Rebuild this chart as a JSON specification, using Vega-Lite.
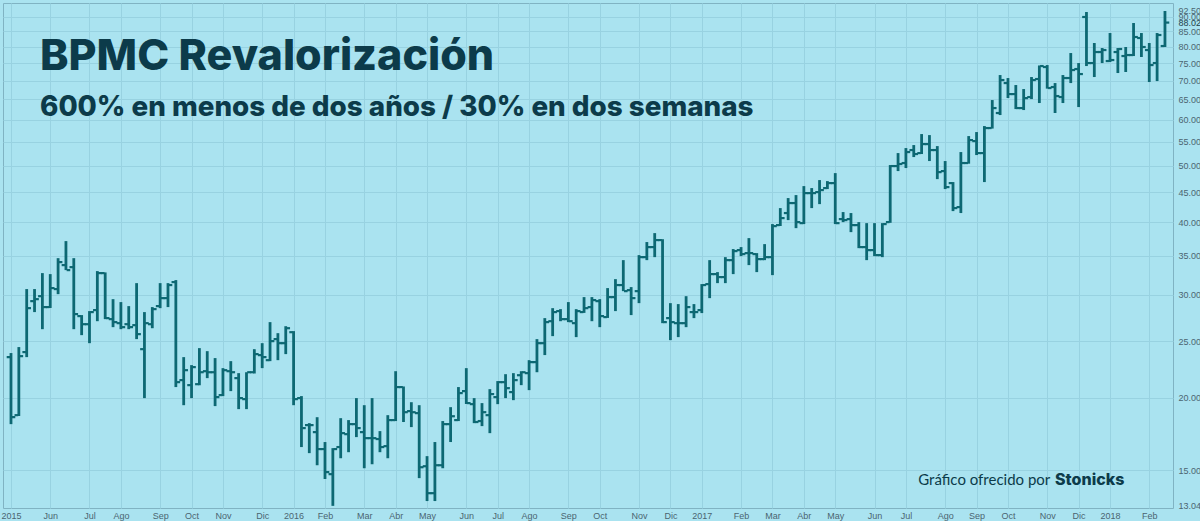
{
  "$schema": "https://vega.github.io/schema/vega-lite/v6.json",
  "width": 1170,
  "height": 505,
  "autosize": {"type": "none"},
  "padding": {"left": 3, "top": 3, "right": 27, "bottom": 13},
  "background": "#aae3f0",
  "config": {"view": {"stroke": "#80b3c3", "strokeWidth": 1}},
  "title": {
    "text": "BPMC Revalorización",
    "subtitle": "600% en menos de dos años / 30% en dos semanas",
    "anchor": "start",
    "frame": "group",
    "orient": "top",
    "offset": -119,
    "dx": 37,
    "font": "Inter",
    "fontSize": 43,
    "fontWeight": 800,
    "color": "#0c3b4a",
    "subtitleFont": "Inter",
    "subtitleFontSize": 27.8,
    "subtitleFontWeight": 800,
    "subtitleColor": "#0c3b4a",
    "subtitlePadding": 15
  },
  "data": {"values": [
    {"date":"2015-04-27","open":23.47,"high":23.85,"low":18.01,"close":18.51},
    {"date":"2015-05-04","open":18.66,"high":24.42,"low":18.6,"close":23.56},
    {"date":"2015-05-11","open":23.94,"high":30.71,"low":23.47,"close":28.48},
    {"date":"2015-05-18","open":29.28,"high":30.71,"low":28.04,"close":29.51},
    {"date":"2015-05-25","open":29.86,"high":32.71,"low":26.21,"close":28.6},
    {"date":"2015-06-01","open":28.6,"high":32.58,"low":28.5,"close":30.83},
    {"date":"2015-06-08","open":30.71,"high":34.7,"low":30.1,"close":34.16},
    {"date":"2015-06-15","open":33.76,"high":37.12,"low":33.1,"close":33.1},
    {"date":"2015-06-22","open":33.49,"high":34.7,"low":26.21,"close":27.82},
    {"date":"2015-06-29","open":27.6,"high":27.71,"low":25.6,"close":26.73},
    {"date":"2015-07-06","open":26.73,"high":28.15,"low":24.8,"close":28.04},
    {"date":"2015-07-13","open":28.26,"high":32.97,"low":27.05,"close":32.71},
    {"date":"2015-07-20","open":32.71,"high":32.8,"low":27.27,"close":27.38},
    {"date":"2015-07-27","open":27.27,"high":29.51,"low":26.42,"close":26.95},
    {"date":"2015-08-03","open":26.84,"high":29.17,"low":26.21,"close":26.42},
    {"date":"2015-08-10","open":26.73,"high":28.71,"low":26.21,"close":26.42},
    {"date":"2015-08-17","open":26.63,"high":31.44,"low":25.2,"close":25.7},
    {"date":"2015-08-24","open":24.22,"high":28.04,"low":19.96,"close":26.84},
    {"date":"2015-08-31","open":26.73,"high":28.6,"low":26.31,"close":28.37},
    {"date":"2015-09-07","open":28.71,"high":31.44,"low":28.48,"close":29.63},
    {"date":"2015-09-14","open":29.63,"high":31.44,"low":28.6,"close":31.2},
    {"date":"2015-09-21","open":31.57,"high":31.82,"low":20.85,"close":21.26},
    {"date":"2015-09-28","open":21.43,"high":23.47,"low":19.41,"close":22.29},
    {"date":"2015-10-05","open":21.01,"high":22.74,"low":19.96,"close":22.56},
    {"date":"2015-10-12","open":21.09,"high":24.32,"low":21.0,"close":22.11},
    {"date":"2015-10-19","open":22.2,"high":24.03,"low":21.6,"close":22.11},
    {"date":"2015-10-26","open":22.11,"high":23.38,"low":19.34,"close":20.04},
    {"date":"2015-11-02","open":20.2,"high":22.47,"low":20.12,"close":22.29},
    {"date":"2015-11-09","open":22.2,"high":23.1,"low":20.52,"close":22.11},
    {"date":"2015-11-16","open":21.6,"high":22.03,"low":19.11,"close":19.96},
    {"date":"2015-11-23","open":19.88,"high":22.11,"low":19.11,"close":22.11},
    {"date":"2015-11-30","open":22.11,"high":24.22,"low":22.0,"close":23.75},
    {"date":"2015-12-07","open":23.66,"high":24.8,"low":22.47,"close":23.47},
    {"date":"2015-12-14","open":23.19,"high":26.95,"low":23.1,"close":25.0},
    {"date":"2015-12-21","open":25.2,"high":25.8,"low":23.19,"close":24.8},
    {"date":"2015-12-28","open":24.8,"high":26.52,"low":23.75,"close":26.31},
    {"date":"2016-01-04","open":25.9,"high":26.01,"low":19.41,"close":19.88},
    {"date":"2016-01-11","open":19.96,"high":20.12,"low":16.45,"close":17.73},
    {"date":"2016-01-18","open":17.94,"high":18.08,"low":16.06,"close":17.94},
    {"date":"2016-01-25","open":17.45,"high":18.51,"low":15.31,"close":16.32},
    {"date":"2016-02-01","open":16.32,"high":16.78,"low":14.5,"close":14.9},
    {"date":"2016-02-08","open":14.78,"high":16.38,"low":13.04,"close":16.32},
    {"date":"2016-02-15","open":16.45,"high":18.44,"low":15.74,"close":17.38},
    {"date":"2016-02-22","open":17.31,"high":18.3,"low":16.12,"close":18.01},
    {"date":"2016-02-29","open":18.01,"high":19.96,"low":17.11,"close":17.73},
    {"date":"2016-03-07","open":17.45,"high":19.41,"low":15.13,"close":17.04},
    {"date":"2016-03-14","open":17.04,"high":19.96,"low":15.37,"close":17.04},
    {"date":"2016-03-21","open":16.98,"high":17.52,"low":16.12,"close":16.45},
    {"date":"2016-03-28","open":16.51,"high":18.66,"low":15.74,"close":18.3},
    {"date":"2016-04-04","open":18.3,"high":22.2,"low":18.23,"close":20.85},
    {"date":"2016-04-11","open":20.85,"high":20.9,"low":18.16,"close":18.88},
    {"date":"2016-04-18","open":18.96,"high":19.64,"low":17.8,"close":18.88},
    {"date":"2016-04-25","open":18.81,"high":19.41,"low":14.55,"close":15.19},
    {"date":"2016-05-02","open":15.25,"high":15.87,"low":13.29,"close":13.71},
    {"date":"2016-05-09","open":13.71,"high":16.78,"low":13.29,"close":15.31},
    {"date":"2016-05-16","open":15.31,"high":18.23,"low":15.13,"close":18.01},
    {"date":"2016-05-23","open":18.01,"high":19.26,"low":16.78,"close":18.58},
    {"date":"2016-05-30","open":18.3,"high":20.85,"low":18.23,"close":20.36},
    {"date":"2016-06-06","open":20.52,"high":22.47,"low":19.5,"close":19.57},
    {"date":"2016-06-13","open":19.49,"high":19.96,"low":18.08,"close":18.16},
    {"date":"2016-06-20","open":18.23,"high":19.57,"low":17.87,"close":18.88},
    {"date":"2016-06-27","open":18.66,"high":20.68,"low":17.38,"close":20.28},
    {"date":"2016-07-04","open":20.04,"high":21.35,"low":19.49,"close":21.26},
    {"date":"2016-07-11","open":21.26,"high":21.94,"low":19.96,"close":20.76},
    {"date":"2016-07-18","open":20.44,"high":22.03,"low":19.8,"close":21.43},
    {"date":"2016-07-25","open":21.85,"high":22.2,"low":21.01,"close":22.11},
    {"date":"2016-08-01","open":22.03,"high":23.19,"low":20.6,"close":23.01},
    {"date":"2016-08-08","open":23.01,"high":25.2,"low":22.11,"close":24.8},
    {"date":"2016-08-15","open":24.8,"high":27.38,"low":23.66,"close":26.95},
    {"date":"2016-08-22","open":27.05,"high":28.48,"low":25.5,"close":28.04},
    {"date":"2016-08-29","open":28.15,"high":28.37,"low":27.05,"close":27.27},
    {"date":"2016-09-05","open":27.27,"high":29.17,"low":26.95,"close":27.05},
    {"date":"2016-09-12","open":26.84,"high":28.37,"low":25.4,"close":28.15},
    {"date":"2016-09-19","open":28.04,"high":29.75,"low":27.95,"close":28.48},
    {"date":"2016-09-26","open":28.6,"high":29.75,"low":27.05,"close":29.4},
    {"date":"2016-10-03","open":29.28,"high":29.51,"low":26.42,"close":27.6},
    {"date":"2016-10-10","open":27.49,"high":30.83,"low":27.4,"close":29.75},
    {"date":"2016-10-17","open":29.75,"high":31.94,"low":28.15,"close":31.2},
    {"date":"2016-10-24","open":31.2,"high":34.43,"low":30.46,"close":30.46},
    {"date":"2016-10-31","open":30.58,"high":30.95,"low":27.71,"close":29.63},
    {"date":"2016-11-07","open":30.46,"high":35.12,"low":29.05,"close":34.84},
    {"date":"2016-11-14","open":34.84,"high":36.98,"low":34.43,"close":36.25},
    {"date":"2016-11-21","open":36.25,"high":38.31,"low":34.84,"close":37.27},
    {"date":"2016-11-28","open":37.27,"high":37.4,"low":26.84,"close":26.95},
    {"date":"2016-12-05","open":27.38,"high":29.05,"low":25.1,"close":26.95},
    {"date":"2016-12-12","open":26.84,"high":28.94,"low":25.4,"close":26.84},
    {"date":"2016-12-19","open":26.84,"high":29.86,"low":26.42,"close":28.6},
    {"date":"2016-12-26","open":28.04,"high":28.94,"low":27.38,"close":28.04},
    {"date":"2017-01-02","open":28.26,"high":31.32,"low":27.93,"close":31.2},
    {"date":"2017-01-09","open":31.32,"high":34.43,"low":29.63,"close":32.58},
    {"date":"2017-01-16","open":32.58,"high":32.84,"low":31.44,"close":32.2},
    {"date":"2017-01-23","open":32.2,"high":34.84,"low":31.44,"close":34.43},
    {"date":"2017-01-30","open":34.43,"high":35.97,"low":32.58,"close":35.68},
    {"date":"2017-02-06","open":35.82,"high":36.25,"low":34.98,"close":35.26},
    {"date":"2017-02-13","open":35.4,"high":37.56,"low":33.76,"close":35.4},
    {"date":"2017-02-20","open":35.26,"high":35.4,"low":32.84,"close":34.57},
    {"date":"2017-02-27","open":34.57,"high":36.68,"low":34.43,"close":34.84},
    {"date":"2017-03-06","open":34.84,"high":39.7,"low":32.45,"close":39.38},
    {"date":"2017-03-13","open":39.54,"high":42.29,"low":39.4,"close":40.65},
    {"date":"2017-03-20","open":41.47,"high":44.0,"low":40.33,"close":43.14},
    {"date":"2017-03-27","open":43.14,"high":44.52,"low":39.07,"close":40.01},
    {"date":"2017-04-03","open":39.85,"high":46.13,"low":39.7,"close":44.87},
    {"date":"2017-04-10","open":44.87,"high":45.77,"low":42.29,"close":44.87},
    {"date":"2017-04-17","open":45.05,"high":47.24,"low":42.96,"close":45.41},
    {"date":"2017-04-24","open":45.77,"high":47.05,"low":45.59,"close":46.68},
    {"date":"2017-05-01","open":46.68,"high":48.56,"low":39.7,"close":39.85},
    {"date":"2017-05-08","open":40.49,"high":41.63,"low":40.01,"close":40.33},
    {"date":"2017-05-15","open":40.49,"high":41.47,"low":38.46,"close":39.54},
    {"date":"2017-05-22","open":39.54,"high":40.01,"low":36.1,"close":36.25},
    {"date":"2017-05-29","open":36.25,"high":39.85,"low":34.43,"close":35.82},
    {"date":"2017-06-05","open":35.82,"high":39.85,"low":34.98,"close":35.12},
    {"date":"2017-06-12","open":35.12,"high":39.85,"low":34.84,"close":39.7},
    {"date":"2017-06-19","open":40.01,"high":50.13,"low":39.9,"close":49.93},
    {"date":"2017-06-26","open":49.93,"high":52.56,"low":48.95,"close":50.33},
    {"date":"2017-07-03","open":50.53,"high":53.61,"low":49.54,"close":52.77},
    {"date":"2017-07-10","open":53.19,"high":54.25,"low":51.74,"close":52.36},
    {"date":"2017-07-17","open":52.56,"high":56.66,"low":52.36,"close":54.46},
    {"date":"2017-07-24","open":54.46,"high":56.43,"low":50.93,"close":53.19},
    {"date":"2017-07-31","open":53.19,"high":54.03,"low":47.42,"close":48.75},
    {"date":"2017-08-07","open":48.95,"high":50.93,"low":45.59,"close":45.95},
    {"date":"2017-08-14","open":46.68,"high":46.87,"low":41.79,"close":42.29},
    {"date":"2017-08-21","open":42.46,"high":52.77,"low":41.47,"close":50.53},
    {"date":"2017-08-28","open":50.53,"high":56.21,"low":50.4,"close":55.33},
    {"date":"2017-09-04","open":55.11,"high":57.11,"low":52.15,"close":52.56},
    {"date":"2017-09-11","open":52.56,"high":58.48,"low":46.87,"close":58.02},
    {"date":"2017-09-18","open":58.02,"high":64.81,"low":57.9,"close":62.79},
    {"date":"2017-09-25","open":61.57,"high":71.54,"low":61.08,"close":70.14},
    {"date":"2017-10-02","open":69.31,"high":70.7,"low":65.32,"close":66.36},
    {"date":"2017-10-09","open":66.36,"high":68.77,"low":62.54,"close":62.79},
    {"date":"2017-10-16","open":62.79,"high":67.69,"low":62.3,"close":65.32},
    {"date":"2017-10-23","open":65.58,"high":70.98,"low":65.06,"close":70.14},
    {"date":"2017-10-30","open":70.42,"high":74.3,"low":64.05,"close":74.13},
    {"date":"2017-11-06","open":73.84,"high":74.42,"low":67.8,"close":67.96},
    {"date":"2017-11-13","open":68.23,"high":69.31,"low":61.57,"close":65.84},
    {"date":"2017-11-20","open":65.58,"high":71.54,"low":64.05,"close":70.7},
    {"date":"2017-11-27","open":70.7,"high":78.04,"low":69.31,"close":72.97},
    {"date":"2017-12-04","open":73.26,"high":75.01,"low":63.04,"close":71.82},
    {"date":"2017-12-11","open":89.98,"high":91.77,"low":74.13,"close":75.01},
    {"date":"2017-12-18","open":75.01,"high":81.19,"low":70.98,"close":78.35},
    {"date":"2017-12-25","open":78.35,"high":79.6,"low":75.01,"close":78.97},
    {"date":"2018-01-01","open":75.61,"high":84.46,"low":75.31,"close":75.91},
    {"date":"2018-01-08","open":78.35,"high":79.6,"low":72.11,"close":79.29},
    {"date":"2018-01-15","open":77.12,"high":79.92,"low":72.4,"close":77.42},
    {"date":"2018-01-22","open":77.42,"high":87.87,"low":77.12,"close":83.14},
    {"date":"2018-01-29","open":82.81,"high":84.46,"low":76.82,"close":79.92},
    {"date":"2018-02-05","open":78.97,"high":81.19,"low":69.59,"close":74.42},
    {"date":"2018-02-12","open":75.01,"high":84.46,"low":69.86,"close":83.8},
    {"date":"2018-02-19","open":80.23,"high":92.14,"low":79.92,"close":88.02}
  ]},
  "encoding": {
    "x": {
      "field": "date",
      "type": "temporal",
      "title": null,
      "scale": {
        "type": "utc",
        "domain": [
          {"year": 2015, "month": 4, "date": 19, "hours": 21, "utc": true},
          {"year": 2018, "month": 2, "date": 26, "hours": 4, "utc": true}
        ]
      },
      "axis": {
        "values": [
          {"year":2015,"month":4,"date":27,"utc":true},
          {"year":2015,"month":6,"date":1,"utc":true},
          {"year":2015,"month":7,"date":6,"utc":true},
          {"year":2015,"month":8,"date":3,"utc":true},
          {"year":2015,"month":9,"date":7,"utc":true},
          {"year":2015,"month":10,"date":5,"utc":true},
          {"year":2015,"month":11,"date":2,"utc":true},
          {"year":2015,"month":12,"date":7,"utc":true},
          {"year":2016,"month":1,"date":4,"utc":true},
          {"year":2016,"month":2,"date":1,"utc":true},
          {"year":2016,"month":3,"date":7,"utc":true},
          {"year":2016,"month":4,"date":4,"utc":true},
          {"year":2016,"month":5,"date":2,"utc":true},
          {"year":2016,"month":6,"date":6,"utc":true},
          {"year":2016,"month":7,"date":4,"utc":true},
          {"year":2016,"month":8,"date":1,"utc":true},
          {"year":2016,"month":9,"date":5,"utc":true},
          {"year":2016,"month":10,"date":3,"utc":true},
          {"year":2016,"month":11,"date":7,"utc":true},
          {"year":2016,"month":12,"date":5,"utc":true},
          {"year":2017,"month":1,"date":2,"utc":true},
          {"year":2017,"month":2,"date":6,"utc":true},
          {"year":2017,"month":3,"date":6,"utc":true},
          {"year":2017,"month":4,"date":3,"utc":true},
          {"year":2017,"month":5,"date":1,"utc":true},
          {"year":2017,"month":6,"date":5,"utc":true},
          {"year":2017,"month":7,"date":3,"utc":true},
          {"year":2017,"month":8,"date":7,"utc":true},
          {"year":2017,"month":9,"date":4,"utc":true},
          {"year":2017,"month":10,"date":2,"utc":true},
          {"year":2017,"month":11,"date":6,"utc":true},
          {"year":2017,"month":12,"date":4,"utc":true},
          {"year":2018,"month":1,"date":1,"utc":true},
          {"year":2018,"month":2,"date":5,"utc":true}
        ],
        "labelExpr": "utcmonth(datum.value) == 0 || (utcyear(datum.value) == 2015 && utcmonth(datum.value) == 3) ? utcFormat(datum.value, '%Y') : ['Ene','Feb','Mar','Abr','May','Jun','Jul','Ago','Sep','Oct','Nov','Dic'][utcmonth(datum.value)]",
        "labelFont": "Liberation Sans",
        "labelFontSize": 9,
        "labelColor": "#4a6570",
        "labelPadding": 3,
        "labelOverlap": false,
        "labelFlush": false,
        "labelBound": false,
        "ticks": false,
        "domain": false,
        "grid": true,
        "gridColor": "#98d2e1",
        "gridWidth": 1
      }
    }
  },
  "layer": [
    {
      "mark": {"type": "rule", "color": "#0d6873", "strokeWidth": 2.8},
      "encoding": {
        "y": {
          "field": "low",
          "type": "quantitative",
          "title": null,
          "scale": {"type": "log", "domain": [12.93, 95.1], "nice": false, "zero": false},
          "axis": {
            "orient": "right",
            "values": [13.04, 15, 20, 25, 30, 35, 40, 45, 50, 55, 60, 65, 70, 75, 80, 85, 88.02, 90, 92.5],
            "format": ".2f",
            "labelFont": "Liberation Sans",
            "labelFontSize": 9,
            "labelColor": {"condition": {"test": "datum.value == 88.02", "value": "#1f3f4a"}, "value": "#4a6570"},
            "labelPadding": 5,
            "labelOverlap": false,
            "labelFlush": false,
            "labelBound": false,
            "ticks": false,
            "domain": false,
            "grid": true,
            "gridColor": "#98d2e1",
            "gridWidth": 1,
            "gridOpacity": {"condition": {"test": "datum.value == 13.04 || datum.value == 88.02 || datum.value == 92.5", "value": 0}, "value": 1}
          }
        },
        "y2": {"field": "high"}
      }
    },
    {
      "mark": {"type": "tick", "orient": "horizontal", "color": "#0d6873", "opacity": 1, "size": 3.6, "thickness": 2.2, "xOffset": -2.5},
      "encoding": {"y": {"field": "open", "type": "quantitative", "title": null}}
    },
    {
      "mark": {"type": "tick", "orient": "horizontal", "color": "#0d6873", "opacity": 1, "size": 3.6, "thickness": 2.2, "xOffset": 2.5},
      "encoding": {"y": {"field": "close", "type": "quantitative", "title": null}}
    },
    {
      "data": {"values": [{"date": "2017-07-14", "price": 14.15, "label": "Gráfico ofrecido por"}]},
      "mark": {"type": "text", "align": "left", "baseline": "alphabetic", "font": "Lato", "fontSize": 15, "color": "#0c3b4a"},
      "encoding": {"y": {"field": "price", "type": "quantitative", "title": null}, "text": {"field": "label"}}
    },
    {
      "data": {"values": [{"date": "2017-11-13", "price": 14.15, "label": "Stonicks"}]},
      "mark": {"type": "text", "align": "left", "baseline": "alphabetic", "font": "Inter", "fontSize": 16, "fontWeight": 800, "color": "#0c3b4a"},
      "encoding": {"y": {"field": "price", "type": "quantitative", "title": null}, "text": {"field": "label"}}
    }
  ]
}
